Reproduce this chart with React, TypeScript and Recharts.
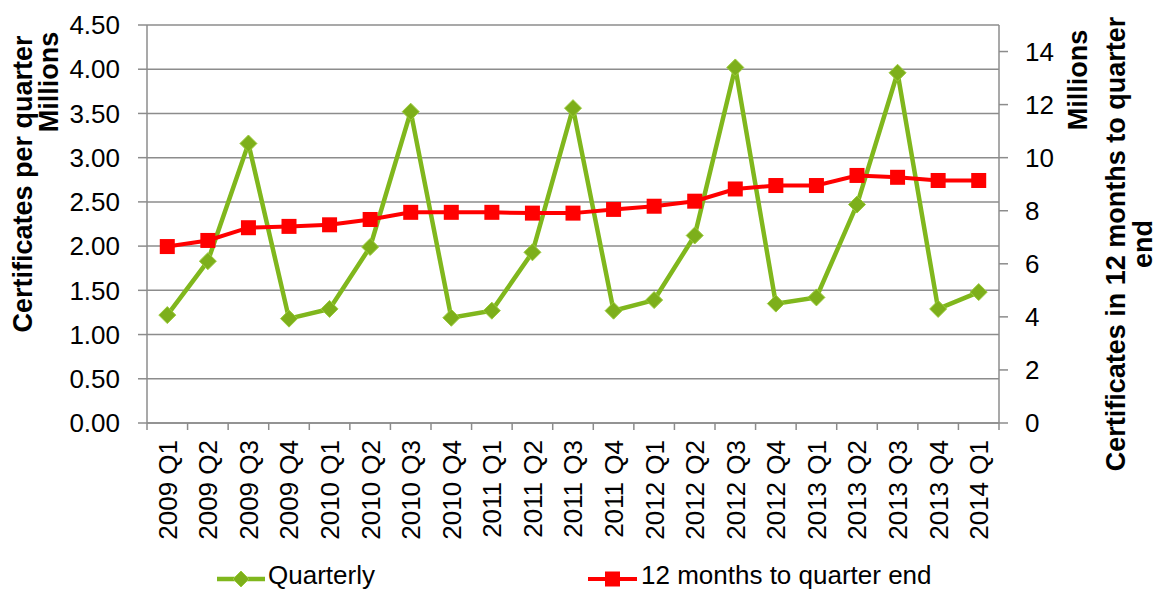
import React from 'react';
import { LineChart, Line, XAxis, YAxis, CartesianGrid } from 'recharts';

const quarters = [
  '2009 Q1', '2009 Q2', '2009 Q3', '2009 Q4',
  '2010 Q1', '2010 Q2', '2010 Q3', '2010 Q4',
  '2011 Q1', '2011 Q2', '2011 Q3', '2011 Q4',
  '2012 Q1', '2012 Q2', '2012 Q3', '2012 Q4',
  '2013 Q1', '2013 Q2', '2013 Q3', '2013 Q4',
  '2014 Q1',
];

// millions of certificates, left axis
const quarterly = [
  1.22, 1.83, 3.16, 1.18,
  1.29, 1.99, 3.52, 1.19,
  1.27, 1.93, 3.56, 1.27,
  1.39, 2.12, 4.02, 1.35,
  1.42, 2.47, 3.96, 1.29,
  1.48,
];

// millions, right axis
const rolling12m = [
  6.65, 6.88, 7.36, 7.41,
  7.47, 7.67, 7.94, 7.94,
  7.94, 7.91, 7.91, 8.05,
  8.17, 8.36, 8.82, 8.95,
  8.95, 9.33, 9.26, 9.14,
  9.14,
];

const leftTicks = [0, 0.5, 1, 1.5, 2, 2.5, 3, 3.5, 4, 4.5];
const rightTicks = [0, 2, 4, 6, 8, 10, 12, 14];

const seriesNames = ['Quarterly', '12 months to quarter end'];

const data = quarters.map((q, i) => ({
  quarter: q,
  quarterly: quarterly[i],
  rolling: rolling12m[i],
}));

const W = 1156;
const H = 591;
const PLOT_LEFT = 147;
const PLOT_RIGHT = 999;
const BAND = (PLOT_RIGHT - PLOT_LEFT) / quarters.length;
const GREEN = '#80B71D';
const RED = '#FF0000';
const GRID = '#8c8c8c';
const FONT = '"Liberation Sans", Arial, sans-serif';

const Diamond = (props: any) => {
  const { cx, cy, index } = props;
  if (cx == null || cy == null) return null;
  const r = 8.5;
  return (
    <path
      key={`d-${index}`}
      d={`M${cx},${cy - r}L${cx + r},${cy}L${cx},${cy + r}L${cx - r},${cy}Z`}
      fill="#7DAF1B"
      stroke="#9ACB3A"
      strokeWidth={1}
    />
  );
};

const Square = (props: any) => {
  const { cx, cy, index } = props;
  if (cx == null || cy == null) return null;
  return <rect key={`s-${index}`} x={cx - 7.5} y={cy - 7.5} width={15} height={15} fill={RED} />;
};

const QuarterTick = (props: any) => {
  const { x, y, payload, index } = props;
  const last = index === quarters.length - 1;
  return (
    <g>
      <line x1={x - BAND / 2} x2={x - BAND / 2} y1={y} y2={y + 7} stroke={GRID} strokeWidth={1.5} />
      {last && <line x1={x + BAND / 2} x2={x + BAND / 2} y1={y} y2={y + 7} stroke={GRID} strokeWidth={1.5} />}
      <text
        x={x}
        y={y + 17}
        dy="0.36em"
        transform={`rotate(-90, ${x}, ${y + 17})`}
        textAnchor="end"
        fontSize={26}
        fill="#000"
        fontFamily={FONT}
      >
        {payload.value}
      </text>
    </g>
  );
};

const rotatedTitle = (cx: number, cy: number, size = 27): React.CSSProperties => ({
  position: 'absolute',
  left: cx,
  top: cy,
  transform: 'translate(-50%, -50%) rotate(-90deg)',
  whiteSpace: 'nowrap',
  fontWeight: 'bold',
  fontSize: size,
  lineHeight: 1,
  color: '#000',
});

export default function App() {
  return (
    <div
      style={{
        position: 'absolute',
        left: 0,
        top: 0,
        width: W,
        height: H,
        overflow: 'hidden',
        background: '#fff',
        fontFamily: FONT,
      }}
    >
      <LineChart width={W} height={H} data={data} margin={{ top: 25, right: 0, bottom: 0, left: 0 }}>
        <CartesianGrid yAxisId="left" vertical={false} stroke={GRID} strokeWidth={1.5} />
        <XAxis
          dataKey="quarter"
          interval={0}
          height={168}
          padding={{ left: BAND / 2, right: BAND / 2 }}
          tickLine={false}
          tickSize={0}
          tickMargin={0}
          axisLine={{ stroke: GRID, strokeWidth: 1.5 }}
          tick={<QuarterTick />}
        />
        <YAxis
          yAxisId="left"
          width={PLOT_LEFT}
          domain={[0, 4.5]}
          ticks={leftTicks}
          tickFormatter={(v: number) => v.toFixed(2)}
          tickSize={9}
          tickMargin={18}
          axisLine={{ stroke: GRID, strokeWidth: 1.5 }}
          tickLine={{ stroke: GRID, strokeWidth: 1.5 }}
          tick={{ fontSize: 26, fill: '#000', fontFamily: FONT }}
        />
        <YAxis
          yAxisId="right"
          orientation="right"
          width={W - PLOT_RIGHT}
          domain={[0, 15]}
          ticks={rightTicks}
          tickSize={9}
          tickMargin={17}
          axisLine={{ stroke: GRID, strokeWidth: 1.5 }}
          tickLine={{ stroke: GRID, strokeWidth: 1.5 }}
          tick={{ fontSize: 26, fill: '#000', fontFamily: FONT }}
        />
        <Line
          yAxisId="left"
          dataKey="quarterly"
          name={seriesNames[0]}
          stroke={GREEN}
          strokeWidth={4.5}
          dot={Diamond}
          activeDot={false}
          isAnimationActive={false}
        />
        <Line
          yAxisId="right"
          dataKey="rolling"
          name={seriesNames[1]}
          stroke={RED}
          strokeWidth={4}
          dot={Square}
          activeDot={false}
          isAnimationActive={false}
        />
      </LineChart>

      <div style={rotatedTitle(23, 184)}>Certificates per quarter</div>
      <div style={rotatedTitle(49, 82)}>Millions</div>
      <div style={rotatedTitle(1078, 80)}>Millions</div>
      <div style={rotatedTitle(1116, 244)}>Certificates in 12 months to quarter</div>
      <div style={rotatedTitle(1143, 244)}>end</div>

      {/* legend */}
      <svg style={{ position: 'absolute', left: 0, top: 559 }} width={W} height={32}>
        <line x1={217} x2={265} y1={20} y2={20} stroke={GREEN} strokeWidth={4.5} />
        <path d="M241,12L249,20L241,28L233,20Z" fill="#7DAF1B" stroke="#9ACB3A" strokeWidth={1} />
        <text x={268} y={25} fontSize={26} fill="#000" fontFamily={FONT}>{seriesNames[0]}</text>
        <line x1={588} x2={637} y1={20} y2={20} stroke={RED} strokeWidth={4} />
        <rect x={605} y={12.5} width={15} height={15} fill={RED} />
        <text x={641} y={25} fontSize={26} fill="#000" fontFamily={FONT}>{seriesNames[1]}</text>
      </svg>
    </div>
  );
}
